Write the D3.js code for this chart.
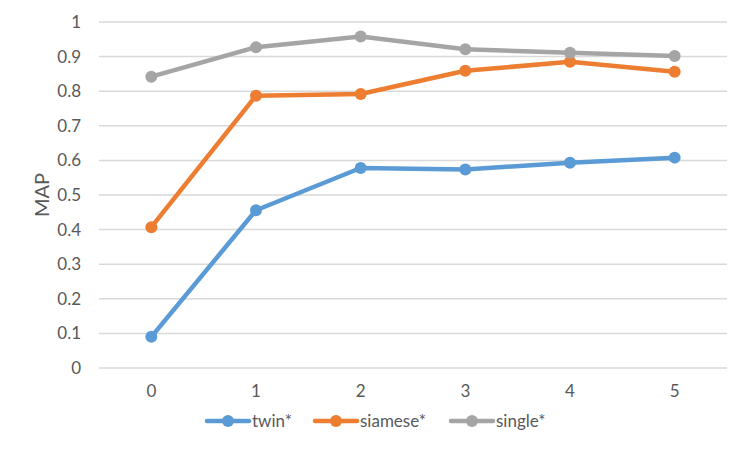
<!DOCTYPE html>
<html>
<head>
<meta charset="utf-8">
<script src="https://cdn.jsdelivr.net/npm/d3@7"></script>
<style>
  body { margin: 0; background: #fff; }
  text { font-family: Lato, "Open Sans", sans-serif; fill: #595959; }
</style>
</head>
<body>
<div id="chart"></div>
<script>
// categories on the x axis
const categories = ["0", "1", "2", "3", "4", "5"]
// series values (MAP)
const twinValues    = [0.09, 0.456, 0.578, 0.574, 0.593, 0.608]
const siameseValues = [0.407, 0.787, 0.792, 0.859, 0.885, 0.856]
const singleValues  = [0.842, 0.927, 0.958, 0.921, 0.911, 0.902]
const seriesNames = ["twin*", "siamese*", "single*"]
const yTicks = [0, 0.1, 0.2, 0.3, 0.4, 0.5, 0.6, 0.7, 0.8, 0.9, 1]

const colors = ["#5B9BD5", "#ED7D31", "#A5A5A5"]

const params = {
  fullWidth: 750,
  fullHeight: 451,
  left: 99,
  right: 23,
  top: 22,
  bottom: 83
}
const width = params.fullWidth - params.left - params.right
const height = params.fullHeight - params.top - params.bottom

const series = [twinValues, siameseValues, singleValues].map((vals, i) => ({
  name: seriesNames[i],
  color: colors[i],
  points: vals.map((v, j) => ({ x: categories[j], y: v }))
}))

const svg = d3.select("#chart").append("svg")
  .attr("width", params.fullWidth)
  .attr("height", params.fullHeight)

const g = svg.append("g")
  .attr("transform", `translate(${params.left},${params.top})`)

const x = d3.scaleBand()
  .domain(categories)
  .range([0, width])

const y = d3.scaleLinear()
  .domain([0, 1])
  .range([height, 0])

// gridlines
g.append("g")
  .selectAll("line")
  .data(yTicks)
  .enter().append("line")
    .attr("x1", 0)
    .attr("x2", width)
    .attr("y1", d => y(d))
    .attr("y2", d => y(d))
    .attr("stroke", "#D9D9D9")
    .attr("stroke-width", 1.5)

// y axis labels
const yAxis = g.append("g")
  .call(d3.axisLeft(y).tickValues(yTicks).tickSize(0).tickPadding(18).tickFormat(d => String(+d.toFixed(1))))
yAxis.select(".domain").remove()
yAxis.selectAll("text")
  .attr("font-size", "17px")
  .attr("fill", "#595959")
  .style("font-family", "Lato, sans-serif")

// x axis labels
const xAxis = g.append("g")
  .attr("transform", `translate(0,${height})`)
  .call(d3.axisBottom(x).tickSize(0).tickPadding(17))
xAxis.select(".domain").remove()
xAxis.selectAll("text")
  .attr("font-size", "17px")
  .attr("fill", "#595959")
  .style("font-family", "Lato, sans-serif")

// y title
g.append("text")
  .attr("transform", "rotate(-90)")
  .attr("x", -(y(0.5)))
  .attr("y", -50)
  .attr("text-anchor", "middle")
  .attr("font-size", "20px")
  .text("MAP")

const line = d3.line()
  .x(d => x(d.x) + x.bandwidth() / 2)
  .y(d => y(d.y))

const sg = g.selectAll(".series")
  .data(series)
  .enter().append("g")
    .attr("class", "series")

sg.append("path")
  .attr("fill", "none")
  .attr("stroke", d => d.color)
  .attr("stroke-width", 4.5)
  .attr("stroke-linejoin", "round")
  .attr("d", d => line(d.points))

sg.selectAll("circle")
  .data(d => d.points.map(p => ({ ...p, color: d.color })))
  .enter().append("circle")
    .attr("cx", d => x(d.x) + x.bandwidth() / 2)
    .attr("cy", d => y(d.y))
    .attr("r", 6)
    .attr("fill", d => d.color)

// legend
const legendX = [207, 315, 451]
const legend = svg.append("g")
  .attr("transform", "translate(0,421)")
const items = legend.selectAll("g")
  .data(series)
  .enter().append("g")
    .attr("transform", (d, i) => `translate(${legendX[i]},0)`)
items.append("line")
  .attr("x1", 0).attr("x2", 42)
  .attr("stroke", d => d.color)
  .attr("stroke-width", 4.5)
  .attr("stroke-linecap", "round")
items.append("circle")
  .attr("cx", 21)
  .attr("r", 6)
  .attr("fill", d => d.color)
items.append("text")
  .attr("x", 45)
  .attr("dy", "0.35em")
  .attr("font-size", "17px")
  .text(d => d.name)
</script>
</body>
</html>
